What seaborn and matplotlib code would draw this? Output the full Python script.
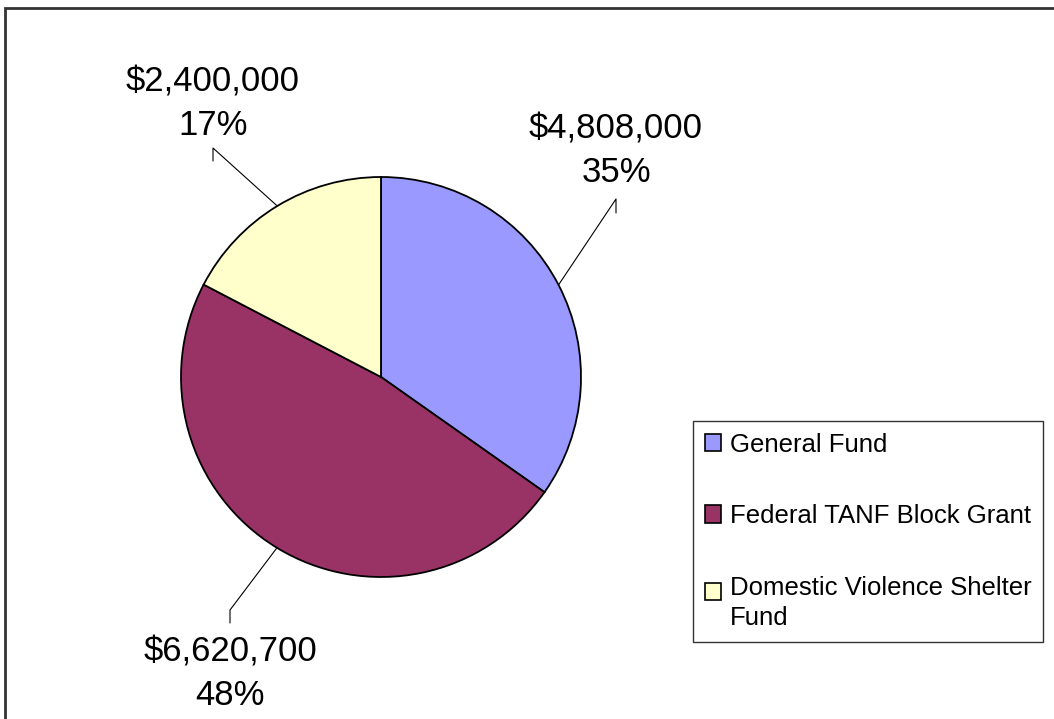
import numpy as np
import matplotlib
matplotlib.use("Agg")
import matplotlib.pyplot as plt
import matplotlib.patches as mpatches
from matplotlib.legend_handler import HandlerPatch
import seaborn as sns

categories = ["General Fund", "Federal TANF Block Grant", "Domestic Violence Shelter\nFund"]
values = [4808000, 6620700, 2400000]
value_labels = ["$4,808,000", "$6,620,700", "$2,400,000"]
pct_labels = ["35%", "48%", "17%"]
colors = ["#9999FF", "#993366", "#FFFFCC"]

sns.set_theme(style="white")
plt.rcParams['font.family'] = ['Liberation Sans', 'DejaVu Sans']
plt.rcParams['text.color'] = 'black'

W, H = 1054, 719
fig = plt.figure(figsize=(W / 100, H / 100), dpi=100)
fig.patch.set_facecolor("white")

# outer chart border
fig.patches.append(mpatches.Rectangle((5 / W, -0.05), 1.1, (1 - 8 / H) + 0.05,
                                      transform=fig.transFigure, fill=False,
                                      edgecolor="#333333", linewidth=2))

cx, cy, r = 381, 377, 200
ax = fig.add_axes([(cx - r) / W, (H - cy - r) / H, 2 * r / W, 2 * r / H])
wedges, _ = ax.pie(values, colors=colors, startangle=90, counterclock=False,
                   radius=1, wedgeprops=dict(edgecolor="black", linewidth=1.3))
ax.set_xlim(-1, 1)
ax.set_ylim(-1, 1)
ax.set_aspect("equal")
ax.axis("off")

# label anchors: (x of elbow, y of elbow, y of end near text, text y, text va)
label_layout = [
    (1.175, 0.89, 0.82, 0.94, "bottom"),
    (-0.755, -1.165, -1.23, -1.295, "top"),
    (-0.84, 1.145, 1.08, 1.175, "bottom"),
]
for w, vl, pl, (lx, ey, ty, tyy, va) in zip(wedges, value_labels, pct_labels, label_layout):
    ang = np.deg2rad((w.theta1 + w.theta2) / 2)
    px, py = np.cos(ang), np.sin(ang)
    ax.plot([px, lx, lx], [py, ey, ty], color="black", linewidth=0.8, clip_on=False)
    ax.text(lx, tyy, f"{vl}\n{pl}", ha="center", va=va, fontsize=25,
            linespacing=1.4, color="black", clip_on=False)


def raised_square(legend, orig_handle, xdescent, ydescent, width, height, fontsize):
    return mpatches.Rectangle((-xdescent, -ydescent + 0.47 * fontsize), width, height)


handles = [mpatches.Patch(facecolor=c, edgecolor="black", linewidth=1.2) for c in colors]
leg = fig.legend(handles, categories, loc="upper left",
                 bbox_to_anchor=(693 / W, 1 - 421 / H), frameon=True,
                 fontsize=18.5, handlelength=0.65, handleheight=0.65,
                 handletextpad=0.35, labelspacing=1.85, borderpad=0.45,
                 borderaxespad=0, fancybox=False,
                 handler_map={handles[2]: HandlerPatch(patch_func=raised_square)})
for t in leg.get_texts():
    t.set_color("black")
    t.set_linespacing(1.35)
leg.get_frame().set_edgecolor("black")
leg.get_frame().set_linewidth(1.0)

fig.savefig("out.png", dpi=100, facecolor="white")
